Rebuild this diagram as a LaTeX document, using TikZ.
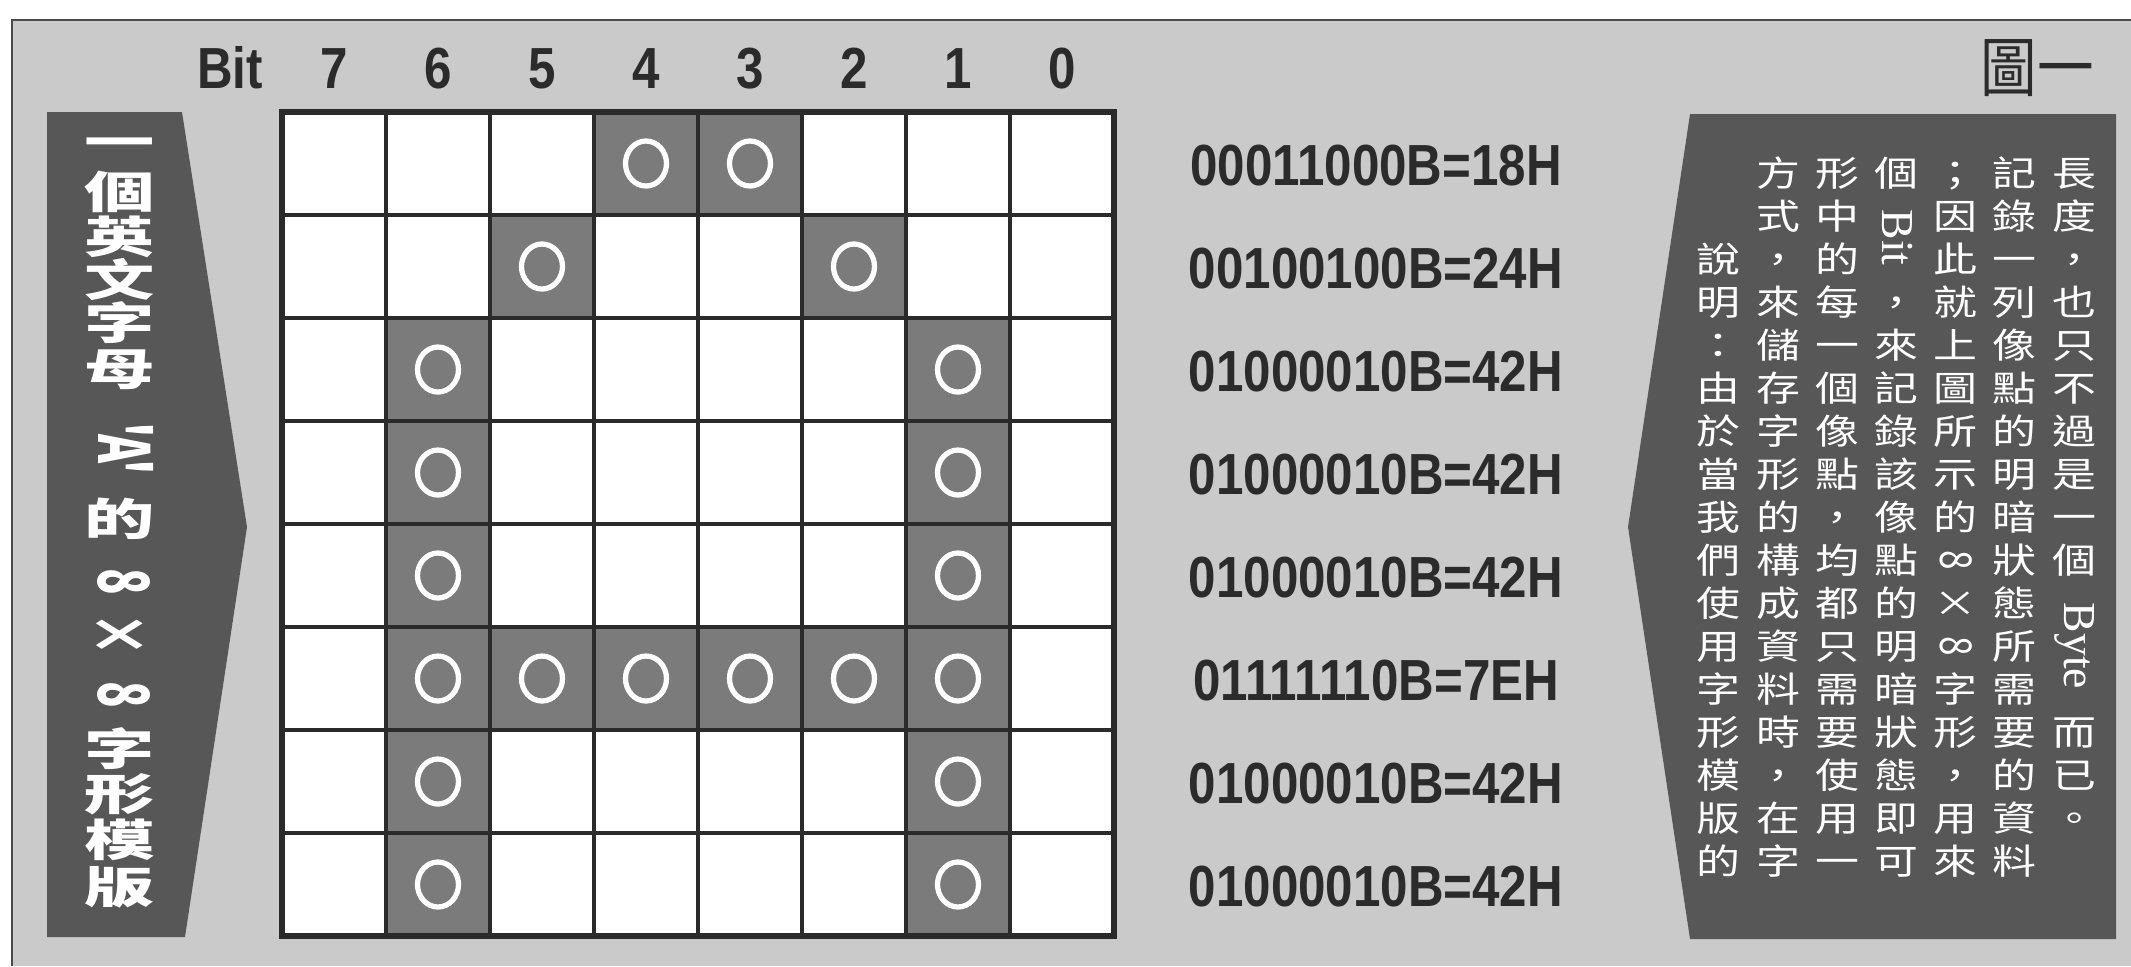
\documentclass[tikz,border=0pt]{standalone}
\usepackage{fontspec}
\usetikzlibrary{shapes.geometric}
\newfontfamily\hexfont[FakeStretch=0.85]{Liberation Sans}
\newfontfamily\latfont{Liberation Serif}
\newfontfamily\cjk{Noto Sans CJK TC}
\definecolor{bgc}{HTML}{CACACA}
\definecolor{framec}{HTML}{4A4A4A}
\definecolor{darkc}{HTML}{575757}
\definecolor{cellc}{HTML}{7B7B7B}
\definecolor{linec}{HTML}{2A2A2A}
\definecolor{inkc}{HTML}{2B2B2B}
\begin{document}
\begin{tikzpicture}[x=1cm, y=1cm,
    hexlbl/.style={font=\hexfont\bfseries\fontsize{16.5}{18}\selectfont, text=inkc, anchor=base, inner sep=0pt},
    ring/.style={ellipse, draw=white, line width=1.5pt, minimum width=0.41cm, minimum height=0.45cm, inner sep=0pt},
    btxt/.style={font=\cjk\bfseries\fontsize{12.5}{14}\selectfont, text=white, xscale=1.6, inner sep=0pt, text height=0.88em, text depth=0.12em},
    rtxt/.style={font=\cjk\fontsize{10}{12}\selectfont, text=white, xscale=1.25, inner sep=0pt, text height=0.88em, text depth=0.12em},
    rlat/.style={font=\latfont\fontsize{13}{14}\selectfont, text=white, rotate=-90, inner sep=0pt}]
    \useasboundingbox (0,0) rectangle (21.31,-9.66);
    \fill[white] (0,0) rectangle (21.31,-9.66);
    % page frame
    \fill[bgc] (0.12,-0.20) rectangle (21.31,-9.66);
    \draw[framec, line width=0.8pt] (0.12,-9.66) -- (0.12,-0.20) -- (21.31,-0.20);
    \node[font=\cjk\fontsize{18.5}{20}\selectfont, text=inkc, xscale=0.87, inner sep=0pt] (fig) at (20.37,-0.68) {圖一};

    % left banner
    \fill[darkc] (0.47,-1.12) -- (1.82,-1.12) -- (2.47,-5.27) -- (1.85,-9.37) -- (0.47,-9.37) -- cycle;
    \foreach \ch/\y [count=\k] in {一/1.45, 個/1.95, 英/2.40, 文/2.83, 字/3.26, 母/3.72, 的/5.22, ×/6.38, 字/7.52, 形/7.97, 模/8.43, 版/8.90}
        \node[btxt] (b\k) at (1.20,-\y) {\ch};
    \node[btxt, rotate=-90] (ba) at (1.20,-4.49) {'A'};
    \foreach \y [count=\k] in {5.82,6.95}
        \node[btxt, rotate=-90] (be\k) at (1.20,-\y) {8};

    % bit header
    \node[hexlbl] (bit) at (2.30,-0.88) {Bit};
    \foreach \d [count=\i from 0] in {7,6,...,0}
        \node[hexlbl] (d\d) at ({3.34+1.04*\i},-0.88) {\d};

    % 8x8 pattern
    \fill[white] (2.82,-1.12) rectangle (11.14,-9.36);
    \foreach \r/\cols in {0/{3,4}, 1/{2,5}, 2/{1,6}, 3/{1,6}, 4/{1,6}, 5/{1,2,3,4,5,6}, 6/{1,6}, 7/{1,6}}
        \foreach \c in \cols {
            \fill[cellc] ({2.82+1.04*\c},{-1.12-1.03*\r}) rectangle ++(1.04,-1.03);
            \node[ring] (o\r-\c) at ({3.34+1.04*\c},{-1.635-1.03*\r}) {};
        }
    \foreach \i in {1,...,7} {
        \draw[linec, line width=0.9pt] ({2.82+1.04*\i},-1.12) -- ++(0,-8.24);
        \draw[linec, line width=0.9pt] (2.82,{-1.12-1.03*\i}) -- ++(8.32,0);
    }
    \draw[linec, line width=1.5pt] (2.82,-1.12) rectangle (11.14,-9.36);

    % row values
    \foreach \r/\v in {0/00011000B=18H, 1/00100100B=24H, 2/01000010B=42H, 3/01000010B=42H, 4/01000010B=42H, 5/01111110B=7EH, 6/01000010B=42H, 7/01000010B=42H}
        \node[hexlbl] (h\r) at (13.76,{-1.85-1.03*\r}) {\v};

    % right note, columns read left to right
    \fill[darkc] (16.90,-1.14) -- (21.16,-1.14) -- (21.16,-9.39) -- (16.90,-9.39) -- (16.28,-5.27) -- cycle;
    \foreach \c/\s/\txt in {1/0/{長,度,，,也,只,不,過,是,一,個}, 1/13/{而,已,。},
            2/0/{記,錄,一,列,像,點,的,明,暗,狀,態,所,需,要,的,資,料},
            3/0/{；,因,此,就,上,圖,所,示,的}, 3/10/{×}, 3/12/{字,形,，,用,來},
            4/0/{個}, 4/3/{，,來,記,錄,該,像,點,的,明,暗,狀,態,即,可},
            5/0/{形,中,的,每,一,個,像,點,，,均,都,只,需,要,使,用,一},
            6/0/{方,式,，,來,儲,存,字,形,的,構,成,資,料,時,，,在,字},
            7/2/{說,明,：,由,於,當,我,們,使,用,字,形,模,版,的}}
        \foreach \ch [count=\k from \s] in \txt
            \node[rtxt] (t\c-\k) at ({20.74-0.592*(\c-1)},{-1.73-0.43*\k}) {\ch};
    \node[rlat] (bt) at (18.97,-2.375) {Bit};
    \node[rlat] (by) at (20.74,-6.46) {Byte};
    \node[rtxt, rotate=-90] (e1) at (19.57,-5.60) {8};
    \node[rtxt, rotate=-90] (e2) at (19.57,-6.46) {8};
\end{tikzpicture}
\end{document}
